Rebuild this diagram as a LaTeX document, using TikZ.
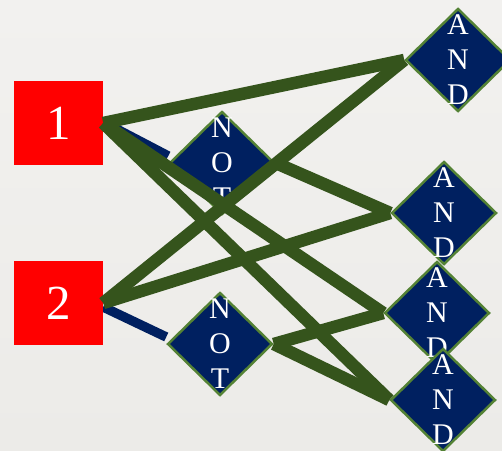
\documentclass[tikz,border=0pt]{standalone}
\usepackage{fontspec}
\setmainfont{Liberation Serif}
\usetikzlibrary{shapes.geometric}
\definecolor{papertop}{RGB}{242,241,239}
\definecolor{paperbot}{RGB}{236,235,232}
\definecolor{gatenavy}{RGB}{0,32,96}
\definecolor{wiregreen}{RGB}{53,84,28}
\definecolor{rimgreen}{RGB}{84,130,53}
\pgfdeclarelayer{back}
\pgfdeclarelayer{lowgates}
\pgfdeclarelayer{wires}
\pgfsetlayers{back,lowgates,wires,main}

\begin{document}
\begin{tikzpicture}[x=1pt,y=-1pt,
  inbox/.style={fill=red,minimum width=89pt,minimum height=84pt,inner sep=0pt,text=white,font=\fontsize{49}{49}\selectfont},
  gate/.style={diamond,fill=gatenavy,draw=rimgreen,line width=2.5pt,minimum width=105pt,minimum height=103pt,inner sep=0pt},
  gatetext/.style={text=white,align=center,inner sep=0pt,font=\fontsize{30}{35}\selectfont},
  wire/.style={wiregreen,line width=12.5pt},
  notwire/.style={gatenavy,line width=9.5pt}]
  \clip (0,0) rectangle (502,450);
  \begin{pgfonlayer}{back}
    \shade[top color=papertop,bottom color=paperbot] (0,0) rectangle (502,450);
  \end{pgfonlayer}
  \begin{pgfonlayer}{lowgates}
    \node[inbox] (in1) at (58.5,123) {1};
    \node[inbox] (in2) at (58.5,303) {2};
    \node[gate,label={[gatetext]center:{N\\O\\T}}] (not1) at (222,163) {};
    \node[gate,label={[gatetext]center:{N\\O\\T}}] (not2) at (220,344) {};
  \end{pgfonlayer}
  \node[gate,label={[gatetext]center:{A\\N\\D}}] (and1) at (458,60) {};
  \node[gate,label={[gatetext]center:{A\\N\\D}}] (and2) at (444,213) {};
  \node[gate,label={[gatetext]center:{A\\N\\D}}] (and3) at (437,313) {};
  \node[gate,label={[gatetext]center:{A\\N\\D}}] (and4) at (443,400) {};
  \begin{pgfonlayer}{back}
    \draw[notwire] ([yshift=1pt]in1.east) -- ([yshift=7pt]not1.west);
    \draw[notwire] ([yshift=-4pt]in2.east) -- ([yshift=7pt]not2.west);
  \end{pgfonlayer}
  \begin{pgfonlayer}{wires}
    \draw[wire] (in1.east) -- (and1.west);
    \draw[wire] (in2.east) -- (and1.west);
    \draw[wire] (not1.east) -- (and2.west);
    \draw[wire] (in2.east) -- (and2.west);
    \draw[wire] (in1.east) -- (and3.west);
    \draw[wire] (not2.east) -- (and3.west);
    \draw[wire] (in1.east) -- (and4.west);
    \draw[wire] (not2.east) -- (and4.west);
  \end{pgfonlayer}
\end{tikzpicture}
\end{document}
